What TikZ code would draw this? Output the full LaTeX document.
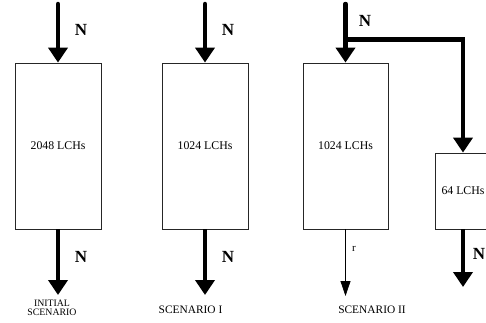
\documentclass[tikz,border=0pt]{standalone}
\usepackage{fontspec}
\setmainfont{Liberation Serif}
\usetikzlibrary{arrows.meta}
\begin{document}
\begin{tikzpicture}[x=1pt,y=-1pt,
  box/.style={draw=black!85,line width=0.8pt,rectangle,inner sep=0pt,minimum width=86pt,minimum height=166pt,font=\fontsize{11.8}{13}\selectfont},
  flow/.style={line width=4.5pt,-{Triangle[width=19pt,length=15pt]}},
  thinflow/.style={line width=0.8pt,-{Triangle[width=10pt,length=15pt]}},
  nlab/.style={font=\fontsize{17}{18}\selectfont\bfseries,inner sep=0pt},
  captext/.style={font=\fontsize{11.4}{12}\selectfont,align=center,inner sep=0pt}]
\useasboundingbox (0,0) rectangle (486,322);
\clip (0,0) rectangle (486,322);
% boxes
\node[box] (b1) at (58,146) {2048 LCHs};
\node[box] (b2) at (205,146) {1024 LCHs};
\node[box,minimum width=85pt] (b3) at (345.5,146) {1024 LCHs};
\node[box,minimum width=56pt,minimum height=76pt] (b4) at (463,191) {64 LCHs};
% coordinates
\coordinate (t1) at (58,4);
\coordinate (t2) at (205,4);
\coordinate (t3) at (345.5,4);
\coordinate (br) at (345.5,39.5);
\coordinate (e1) at (58,295);
\coordinate (e2) at (205,295);
\coordinate (e3) at (345.5,296);
\coordinate (e4) at (463,287);
% arrows
\draw[flow,line cap=round] (t1) -- (b1.north);
\draw[flow,line cap=round] (t2) -- (b2.north);
\draw[flow,line cap=round] (t3) -- (b3.north);
\draw[flow,line join=miter] (br) -| (b4.north);
\draw[flow] (b1.south) -- (e1);
\draw[flow] (b2.south) -- (e2);
\draw[thinflow] (b3.south) -- (e3);
\draw[flow] (b4.south) -- (e4);
% labels
\node[nlab] (n1) at (81,30) {N};
\node[nlab] (n2) at (228,30) {N};
\node[nlab] (n3) at (365,21) {N};
\node[nlab] (n4) at (81,257) {N};
\node[nlab] (n5) at (228,257) {N};
\node[nlab] (n6) at (479,254) {N};
\node[font=\fontsize{11}{12}\selectfont,inner sep=0pt] (r) at (354,249) {r};
\node[captext,font=\fontsize{9.8}{9.5}\selectfont] (c1) at (52,308) {INITIAL\\SCENARIO};
\node[captext] (c2) at (190.5,310) {SCENARIO I};
\node[captext] (c3) at (372,309.5) {SCENARIO II};
\end{tikzpicture}
\end{document}
